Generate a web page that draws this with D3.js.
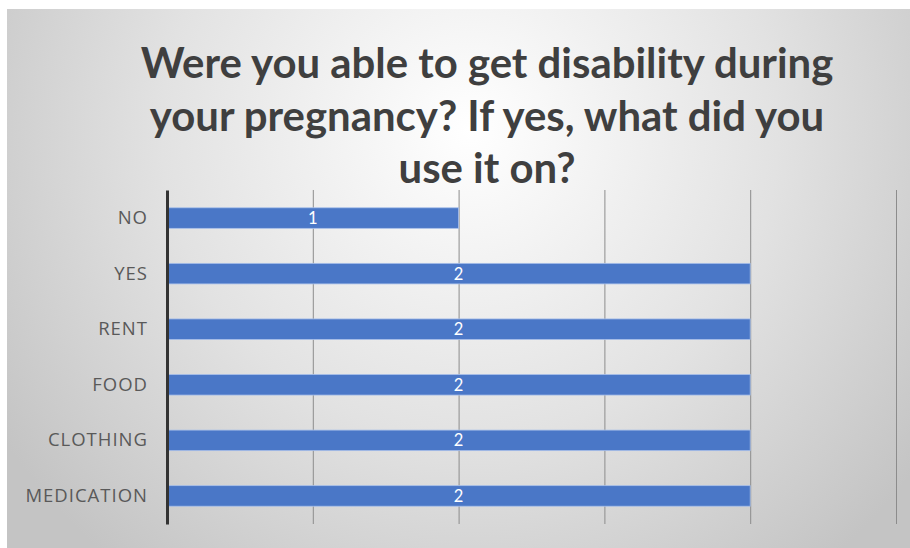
<!DOCTYPE html>
<html>
<head>
<meta charset="utf-8">
<script src="https://cdn.jsdelivr.net/npm/d3@7"></script>
<style>
  body { margin: 0; background: #fff; }
  text { font-family: Lato, "Open Sans", sans-serif; }
  .y-axis text { font-family: "Open Sans", sans-serif; }
</style>
</head>
<body>
<div id="chart-area"></div>
<script>
var categories = ["NO", "YES", "RENT", "FOOD", "CLOTHING", "MEDICATION"];
var values = [1, 2, 2, 2, 2, 2];
var titleLines = ["Were you able to get disability during", "your pregnancy? If yes, what did you", "use it on?"];
var gridTicks = [0.5, 1, 1.5, 2, 2.5];

var W = 910, H = 548;
var margin = { left: 167, right: 14, top: 190, bottom: 24 };
var height = H - margin.top - margin.bottom;

var svg = d3.select("#chart-area")
  .append("svg")
  .attr("width", W)
  .attr("height", H);

var defs = svg.append("defs");
var grad = defs.append("radialGradient")
  .attr("id", "bg")
  .attr("gradientUnits", "userSpaceOnUse")
  .attr("cx", 470).attr("cy", 130).attr("r", 560);
grad.append("stop").attr("offset", "0%").attr("stop-color", "#ffffff");
grad.append("stop").attr("offset", "55%").attr("stop-color", "#e2e2e2");
grad.append("stop").attr("offset", "100%").attr("stop-color", "#c4c4c4");

svg.append("rect")
  .attr("x", 7).attr("y", 9)
  .attr("width", W - 7).attr("height", H - 9)
  .attr("fill", "url(#bg)");

// title, sized so the first line spans roughly the same width as the original
var title = svg.append("g").attr("class", "title");
var titleText = title.selectAll("text")
  .data(titleLines)
  .enter().append("text")
  .attr("x", 487)
  .attr("y", function(d, i){ return 78 + i * 52.5; })
  .attr("text-anchor", "middle")
  .attr("font-weight", "bold")
  .attr("font-size", 34)
  .attr("fill", "#3f3f3f")
  .text(function(d){ return d; });

var w1 = titleText.node().getComputedTextLength();
titleText.attr("font-size", 34 * 693 / w1);

var g = svg.append("g")
  .attr("transform", "translate(" + margin.left + ", " + margin.top + ")");

var x = d3.scaleLinear()
  .domain([0, 2.5])
  .range([0, 729]);

var y = d3.scaleBand()
  .domain(categories)
  .range([0, height])
  .paddingInner(0.63)
  .paddingOuter(0.32);

// grid lines
g.append("g")
  .attr("class", "grid")
  .call(d3.axisBottom(x).tickValues(gridTicks).tickSize(height).tickFormat(""))
  .call(function(s){
    s.select(".domain").remove();
    s.selectAll(".tick line").attr("stroke", "#8c8c8c").attr("stroke-width", 1);
  });

// bars
g.selectAll(".bar")
  .data(values)
  .enter().append("rect")
  .attr("class", "bar")
  .attr("x", 0)
  .attr("y", function(d, i){ return y(categories[i]); })
  .attr("width", function(d){ return x(d); })
  .attr("height", y.bandwidth())
  .attr("fill", "#4a77c7")
  .attr("stroke", "#a9c0ea")
  .attr("stroke-width", 0.8);

// data labels
g.selectAll(".label")
  .data(values)
  .enter().append("text")
  .attr("class", "label")
  .attr("x", function(d){ return x(d) / 2; })
  .attr("y", function(d, i){ return y(categories[i]) + y.bandwidth() / 2; })
  .attr("dy", "0.36em")
  .attr("text-anchor", "middle")
  .attr("font-size", 16.5)
  .attr("fill", "#ffffff")
  .text(function(d){ return d; });

// category axis
var yAxisGroup = g.append("g")
  .attr("class", "y-axis")
  .call(d3.axisLeft(y).tickSize(0).tickPadding(19));

yAxisGroup.select(".domain")
  .attr("stroke", "#333")
  .attr("stroke-width", 3);

yAxisGroup.selectAll(".tick text")
  .attr("font-size", 18.5)
  .attr("letter-spacing", "1px")
  .attr("fill", "#595959");
</script>
</body>
</html>
